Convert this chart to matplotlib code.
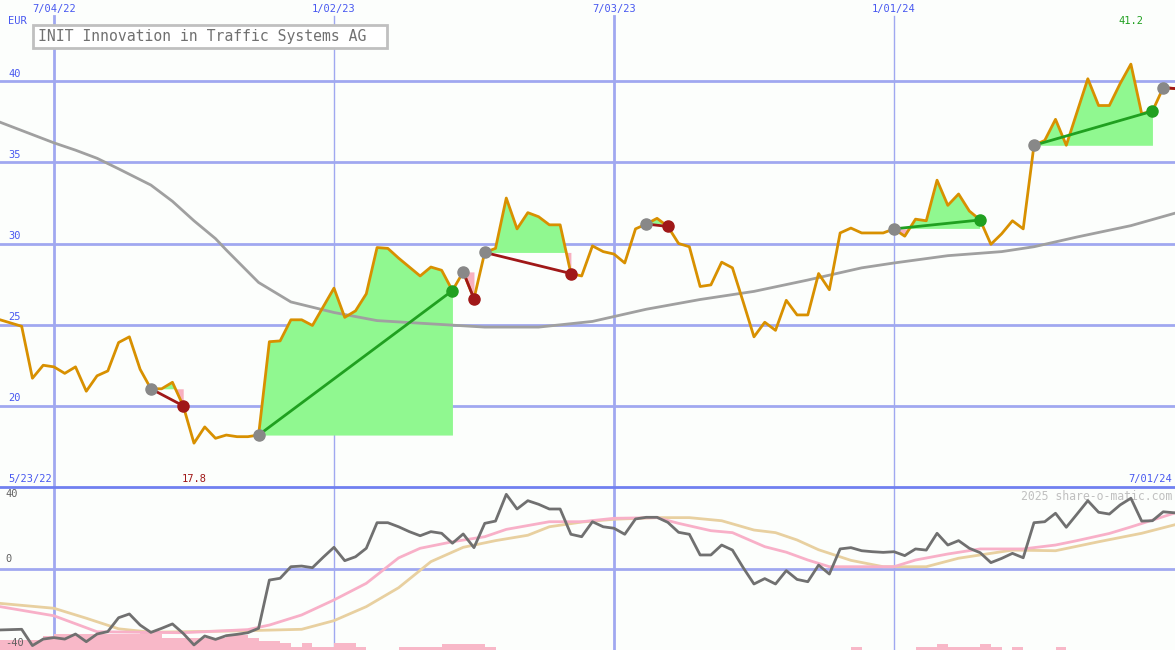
import numpy as np
import pandas as pd
import matplotlib
matplotlib.use('Agg')
import matplotlib.pyplot as plt
from matplotlib.patches import Rectangle

# weekly closes, 2022-05-30 .. 2024-07-01
weeks = pd.date_range('2022-05-30', '2024-07-01', freq='7D')
close = [25.3, 25.1, 24.9, 21.7, 22.5, 22.4, 22.0, 22.4, 20.9, 21.85,
         22.15, 23.9, 24.25, 22.25, 21.05, 21.05, 21.45, 20.0, 17.7, 18.7,
         18.0, 18.2, 18.1, 18.1, 18.2, 23.95, 24.0, 25.3, 25.3, 24.95,
         26.1, 27.25, 25.45, 25.85, 26.9, 29.75, 29.7, 29.1, 28.55, 28.0,
         28.55, 28.35, 27.1, 28.25, 26.6, 29.45, 29.7, 32.8, 30.9, 31.9,
         31.65, 31.15, 31.15, 28.15, 28.0, 29.85, 29.5, 29.35, 28.8, 30.9,
         31.2, 31.55, 31.05, 30.0, 29.8, 27.35, 27.45, 28.85, 28.5, 26.4,
         24.25, 25.15, 24.65, 26.5, 25.6, 25.6, 28.15, 27.15, 30.65, 30.95,
         30.65, 30.65, 30.65, 30.9, 30.45, 31.5, 31.4, 33.9, 32.35, 33.05,
         32.0, 31.45, 29.95, 30.6, 31.4, 30.9, 36.05, 36.35, 37.65, 36.05,
         38.1, 40.15, 38.5, 38.5, 39.85, 41.05, 38.0, 38.15, 39.6, 39.55]

# long moving average (read at a few weeks)
ma_idx = [0, 5, 7, 9, 11, 14, 16, 18, 20, 21, 24, 27, 31, 35, 40, 45, 50,
          55, 60, 65, 70, 75, 80, 83, 88, 93, 96, 100, 105, 109]
ma_val = [37.47, 36.2, 35.75, 35.25, 34.6, 33.6, 32.6, 31.4, 30.3, 29.6,
          27.6, 26.4, 25.75, 25.25, 25.05, 24.85, 24.85, 25.2, 25.95, 26.55,
          27.05, 27.75, 28.5, 28.8, 29.25, 29.5, 29.8, 30.4, 31.1, 31.85]

# trades (week index of entry / exit), last one still open
trade_entry = [14, 24, 43, 45, 60, 83, 96, 108]
trade_exit = [17, 42, 44, 53, 62, 91, 107, 109]

price_high = 41.2
price_high_idx = 105
price_low = 17.8
price_low_idx = 18

# lower panel: oscillator and two smoothings
osc = [-37.7, -37.5, -37.3, -47.3, -43.3, -42.4, -43.3, -40.2, -44.9, -40.2,
       -38.7, -30.2, -27.9, -34.7, -39.2, -36.7, -34.0, -39.8, -46.9, -41.4,
       -43.5, -41.2, -40.4, -39.4, -36.7, -7.1, -6.0, 1.1, 1.5, 0.5,
       6.9, 13.0, 4.8, 7.2, 12.4, 28.1, 28.1, 25.6, 22.6, 20.1,
       22.6, 21.6, 15.5, 21.2, 12.8, 27.7, 29.1, 45.5, 36.5, 41.6,
       39.4, 36.5, 36.5, 21.0, 19.5, 28.7, 25.6, 24.7, 21.0, 30.4,
       31.4, 31.4, 28.3, 22.2, 21.0, 8.3, 8.3, 14.4, 11.3, 0.5,
       -9.5, -6.2, -9.5, -1.3, -6.7, -8.1, 2.1, -3.4, 12.0, 12.8,
       10.9, 10.3, 9.9, 10.3, 7.9, 12.0, 11.3, 21.6, 14.4, 17.1,
       12.4, 9.7, 3.6, 6.2, 9.3, 6.6, 28.1, 28.7, 33.9, 25.3,
       33.4, 41.6, 34.5, 33.4, 39.0, 43.1, 29.1, 29.3, 34.8, 34.2]

fast_idx = [0, 5, 9, 17, 23, 25, 28, 31, 34, 37, 39, 42, 45, 47, 51, 54,
            57, 61, 63, 66, 68, 71, 73, 75, 77, 80, 83, 85, 88, 91, 95, 98,
            100, 103, 105, 109]
fast_val = [-23.4, -29.0, -38.8, -39.4, -37.5, -34.7, -28.5, -19.3, -9.1, 6.5,
            12.4, 16.4, 19.5, 24.0, 28.7, 28.7, 30.8, 31.2, 27.7, 23.2,
            22.0, 13.4, 10.0, 5.2, 1.1, 1.1, 1.1, 5.2, 8.9, 12.0,
            12.0, 14.4, 17.1, 21.5, 25.5, 33.9]

slow_idx = [0, 5, 8, 11, 14, 22, 28, 31, 34, 37, 40, 43, 46, 49, 51, 54,
            57, 61, 64, 67, 70, 72, 74, 76, 79, 82, 86, 89, 94, 98, 102, 106, 109]
slow_val = [-21.4, -24.4, -30.5, -37.0, -39.1, -38.3, -37.3, -32.0, -23.4, -11.8,
            4.2, 13.0, 17.1, 20.4, 25.6, 28.5, 30.2, 31.2, 31.2, 29.3,
            23.6, 22.0, 17.5, 11.5, 5.0, 1.1, 1.1, 6.3, 11.3, 10.9,
            16.4, 21.6, 26.7]

volume = [6, 6, 6, 6, 8.5, 9.6, 9.6, 9.6, 9.6, 9.6,
          9.6, 9.6, 9.6, 11.7, 9.6, 7.6, 7.6, 7.6, 7.6, 7.6,
          7.6, 9, 9, 7.6, 5.5, 5.5, 4.1, 2.0, 4.1, 2.0,
          2.0, 4.1, 4.1, 2.0, 0, 0, 0, 2.0, 2.0, 2.0,
          2.0, 3.7, 3.7, 3.7, 3.7, 2.0, 0, 0, 0, 0,
          0, 0, 0, 0, 0, 0, 0, 0, 0, 0,
          0, 0, 0, 0, 0, 0, 0, 0, 0, 0,
          0, 0, 0, 0, 0, 0, 0, 0, 0, 1.6,
          0, 0, 0, 0, 0, 1.6, 1.6, 3.7, 1.6, 1.6,
          1.6, 3.7, 1.6, 0, 1.6, 0, 0, 0, 1.6, 0,
          0, 0, 0, 0, 0, 0, 0, 0, 0, 0]

grid_dates = ['2022-07-04', '2023-01-02', '2023-07-03', '2024-01-01']
price_levels = [20, 25, 30, 35, 40]
osc_levels = [40, 0, -40]
range_start = '2022-05-23'
range_end = '2024-07-01'
title = 'INIT Innovation in Traffic Systems AG'

W, H = 1175, 650
bg = '#fcfefc'
grid_c = '#a0a8f0'
lbl_c = '#4858f0'
green = '#20a020'
red = '#a01818'
mono = 'DejaVu Sans Mono'


def fmt(d):
    d = pd.Timestamp(d)
    return '{}/{:02d}/{:02d}'.format(d.month, d.day, d.year % 100)


close = np.array(close)
fig = plt.figure(figsize=(W / 100, H / 100), dpi=100)
fig.patch.set_facecolor(bg)
split = 163
ax = fig.add_axes([0, split / H, 1, (H - split) / H])
ax2 = fig.add_axes([0, 0, 1, split / H])
xl = (weeks[0] - pd.Timedelta(hours=2), weeks[-1] + pd.Timedelta(hours=16))
for a in (ax, ax2):
    a.set_xlim(xl)
    a.axis('off')
ax.set_ylim(15, 45)
ax2.set_ylim(-50, 50)

# grid
for i, d in enumerate(grid_dates):
    lw = 2 if i % 2 == 0 else 1
    ax.axvline(pd.Timestamp(d), ymax=1 - 16 / 487, color=grid_c, lw=lw, zorder=0)
    ax2.axvline(pd.Timestamp(d), color=grid_c, lw=lw, zorder=0)
    ax.text(pd.Timestamp(d), 1 - 9 / 487, fmt(d), transform=ax.get_xaxis_transform(),
            ha='center', va='center', color=lbl_c, fontsize=7.5, family=mono)
for v in price_levels:
    ax.axhline(v, color=grid_c, lw=2, zorder=0)
    ax.text(8 / W, v + 0.15, str(v), transform=ax.get_yaxis_transform(),
            ha='left', va='bottom', color=lbl_c, fontsize=7.5, family=mono)
ax2.axhline(0, color=grid_c, lw=2, zorder=0)
ax2.axhline(50, color='#7080f0', lw=2, zorder=6, clip_on=False)
for v in osc_levels:
    # lowest label sits at the bottom edge of the panel
    ypos = v + 2.5 if v > min(osc_levels) else -48.5
    ax2.text(5 / W, ypos, str(v), transform=ax2.get_yaxis_transform(),
             ha='left', va='bottom', color='#606060', fontsize=7.5, family=mono,
             zorder=7)

# trades: shading, lines, markers
for e, x in zip(trade_entry, trade_exit):
    lvl = close[e]
    xs = weeks[e:x + 1]
    ys = close[e:x + 1]
    ax.fill_between(xs, ys, lvl, where=ys >= lvl, interpolate=True,
                    color='#90f890', lw=0, zorder=2)
    ax.fill_between(xs, ys, lvl, where=ys < lvl, interpolate=True,
                    color='#f8b0c0', lw=0, zorder=2)

ax.plot(weeks[ma_idx], ma_val, color='#a0a0a0', lw=2, zorder=3)
ax.plot(weeks, close, color='#d89000', lw=2, zorder=4)

for e, x in zip(trade_entry, trade_exit):
    win = close[x] > close[e]
    c = green if win else red
    ax.plot([weeks[e], weeks[x]], [close[e], close[x]], color=c, lw=2, zorder=5)
    ax.plot(weeks[e], close[e], 'o', ms=8, color='#888888', zorder=6)
    if x != len(weeks) - 1:
        ax.plot(weeks[x], close[x], 'o', ms=8, color=c, zorder=6)

# labels
ax.text(8 / W, 1 - 21.5 / 487, 'EUR', transform=ax.transAxes, ha='left',
        va='center', color=lbl_c, fontsize=7.5, family=mono)
ax.text(weeks[price_high_idx], 1 - 21 / 487, '{:.1f}'.format(price_high),
        transform=ax.get_xaxis_transform(), ha='center', va='center',
        color=green, fontsize=7.5, family=mono)
ax.text(weeks[price_low_idx], 8 / 487, '{:.1f}'.format(price_low),
        transform=ax.get_xaxis_transform(), ha='center', va='center',
        color=red, fontsize=7.5, family=mono)
ax.text(8 / W, 8 / 487, fmt(range_start), transform=ax.transAxes, ha='left',
        va='center', color=lbl_c, fontsize=7.5, family=mono)
ax.text(1 - 3 / W, 8 / 487, fmt(range_end), transform=ax.transAxes, ha='right',
        va='center', color=lbl_c, fontsize=7.5, family=mono)

fig.patches.append(Rectangle((33 / W, 1 - 48 / H), 354 / W, 23 / H,
                             transform=fig.transFigure, facecolor='white',
                             edgecolor='#c0c0c0', lw=2, zorder=10))
fig.text(38 / W, 1 - 36.5 / H, title, ha='left', va='center', color='#707070',
         fontsize=10.6, family=mono, zorder=11)

# lower panel
ax2.bar(weeks, volume, width=7, bottom=-50, align='edge', color='#f8b8c8',
        lw=0, zorder=1)
ax2.plot(weeks[slow_idx], slow_val, color='#e8d0a0', lw=2, zorder=2)
ax2.plot(weeks[fast_idx], fast_val, color='#f8b0c8', lw=2, zorder=3)
ax2.plot(weeks, osc, color='#707070', lw=2, zorder=4)
ax2.text(1 - 3 / W, 1 - 9 / 163, '2025 share-o-matic.com', transform=ax2.transAxes,
         ha='right', va='center', color='#c0c0c0', fontsize=8.3, family=mono)

fig.savefig('out.png', dpi=100, facecolor=bg)
